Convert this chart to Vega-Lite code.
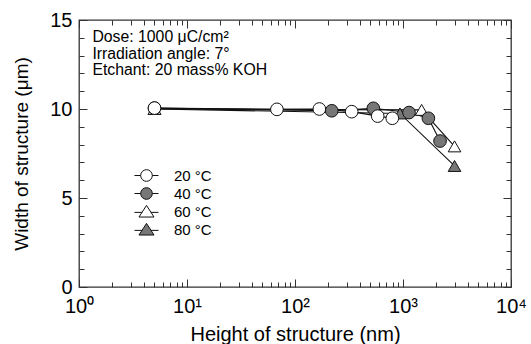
{
  "$schema": "https://vega.github.io/schema/vega-lite/v6.json",
  "width": 432,
  "height": 267,
  "autosize": {"type": "none"},
  "padding": {"left": 79, "top": 20, "right": 20, "bottom": 57},
  "config": {
    "view": {"stroke": "#333", "strokeWidth": 1.3},
    "font": "Liberation Sans",
    "axis": {"domain": false, "grid": false, "tickColor": "#333", "tickWidth": 1, "labelFont": "Liberation Sans", "titleFont": "Liberation Sans", "labelFontSize": 20, "titleFontSize": 20, "labelColor": "#000", "titleColor": "#000", "titleFontWeight": "normal"}
  },
  "datasets": {
    "pts": [
      {"series": "20 °C", "h": 5, "w": 10.05},
      {"series": "20 °C", "h": 68, "w": 9.98},
      {"series": "20 °C", "h": 168, "w": 10.0},
      {"series": "20 °C", "h": 335, "w": 9.85},
      {"series": "20 °C", "h": 583, "w": 9.6},
      {"series": "20 °C", "h": 796, "w": 9.48},
      {"series": "40 °C", "h": 5, "w": 10.05},
      {"series": "40 °C", "h": 219, "w": 9.9},
      {"series": "40 °C", "h": 531, "w": 10.04},
      {"series": "40 °C", "h": 1137, "w": 9.8},
      {"series": "40 °C", "h": 1718, "w": 9.48},
      {"series": "40 °C", "h": 2203, "w": 8.2},
      {"series": "60 °C", "h": 5, "w": 10.0},
      {"series": "60 °C", "h": 1487, "w": 9.95},
      {"series": "60 °C", "h": 3000, "w": 7.9},
      {"series": "80 °C", "h": 5, "w": 10.0},
      {"series": "80 °C", "h": 937, "w": 9.75},
      {"series": "80 °C", "h": 3000, "w": 6.8}
    ],
    "notes": [
      {"label": "Dose: 1000 μC/cm²\nIrradiation angle: 7°\nEtchant: 20 mass% KOH", "nx": 1.33, "ny": 14.45}
    ]
  },
  "layer": [
    {
      "data": {"name": "pts"},
      "mark": {"type": "line", "color": "#111", "strokeWidth": 1.1},
      "encoding": {
        "x": {"field": "h", "type": "quantitative", "scale": {"type": "log", "domain": [1, 10000], "nice": false},
          "axis": {"orient": "bottom", "values": [1, 10, 100, 1000, 10000], "labelExpr": "'10' + ['⁰','¹','²','³','⁴'][round(log(datum.value)/LN10)]", "tickSize": -8, "labelPadding": 17, "labelFlush": false, "title": "Height of structure (nm)", "titlePadding": 8}},
        "y": {"field": "w", "type": "quantitative", "scale": {"domain": [0, 15], "nice": false, "zero": true},
          "axis": {"orient": "left", "values": [0, 5, 10, 15], "tickSize": -8, "labelPadding": 15, "title": "Width of structure (μm)", "titleFontSize": 19, "titlePadding": 18}},
        "detail": {"field": "series"}
      }
    },
    {
      "data": {"name": "pts"},
      "mark": {"type": "point", "filled": true, "stroke": "#111", "strokeWidth": 1, "opacity": 1},
      "encoding": {
        "x": {"field": "h", "type": "quantitative", "axis": {"orient": "top", "values": [1, 10, 100, 1000, 10000], "labels": false, "tickSize": -8, "title": null}},
        "y": {"field": "w", "type": "quantitative", "axis": {"orient": "right", "values": [0, 5, 10, 15], "labels": false, "tickSize": -8, "title": null}},
        "shape": {"field": "series", "type": "nominal", "scale": {"domain": ["20 °C", "40 °C", "60 °C", "80 °C"], "range": ["circle", "circle", "triangle-up", "triangle-up"]}, "legend": null},
        "fill": {"field": "series", "type": "nominal", "scale": {"domain": ["20 °C", "40 °C", "60 °C", "80 °C"], "range": ["#ffffff", "#777777", "#ffffff", "#777777"]}, "legend": null},
        "size": {"field": "series", "type": "nominal", "scale": {"domain": ["20 °C", "40 °C", "60 °C", "80 °C"], "range": [160, 160, 210, 210]}, "legend": null},
        "order": {"field": "series", "sort": "descending"}
      }
    },
    {
      "data": {"name": "notes"},
      "mark": {"type": "text", "align": "left", "baseline": "top", "fontSize": 15.8, "lineHeight": 16.8, "font": "Liberation Sans", "color": "#000", "lineBreak": "\n"},
      "encoding": {
        "x": {"field": "nx", "type": "quantitative", "axis": {"orient": "bottom", "values": [2,3,4,5,6,7,8,9,20,30,40,50,60,70,80,90,200,300,400,500,600,700,800,900,2000,3000,4000,5000,6000,7000,8000,9000], "labels": false, "tickSize": -5, "title": null}},
        "y": {"field": "ny", "type": "quantitative", "axis": {"orient": "left", "values": [1,2,3,4,6,7,8,9,11,12,13,14], "labels": false, "tickSize": -5, "title": null}},
        "text": {"field": "label"}
      }
    },
    {
      "data": {"name": "pts"},
      "mark": {"type": "point", "filled": true, "opacity": 0, "stroke": "#111", "strokeWidth": 1},
      "encoding": {
        "x": {"field": "h", "type": "quantitative", "axis": {"orient": "top", "values": [2,3,4,5,6,7,8,9,20,30,40,50,60,70,80,90,200,300,400,500,600,700,800,900,2000,3000,4000,5000,6000,7000,8000,9000], "labels": false, "tickSize": -5, "title": null}},
        "y": {"field": "w", "type": "quantitative", "axis": {"orient": "right", "values": [1,2,3,4,6,7,8,9,11,12,13,14], "labels": false, "tickSize": -5, "title": null}},
        "shape": {"field": "series", "type": "nominal", "scale": {"domain": ["20 °C", "40 °C", "60 °C", "80 °C"], "range": ["M-2.06,0H-1M1,0H2.06M-1,0A1,1,0,1,1,1,0A1,1,0,1,1,-1,0Z", "M-2.06,0H-1M1,0H2.06M-1,0A1,1,0,1,1,1,0A1,1,0,1,1,-1,0Z", "M-2.06,0.15H-0.75M0.75,0.15H2.06M0,-1.05L1.29,0.95L-1.29,0.95Z", "M-2.06,0.15H-0.75M0.75,0.15H2.06M0,-1.05L1.29,0.95L-1.29,0.95Z"]},
          "legend": {"title": null, "orient": "none", "legendX": 60, "legendY": 148, "padding": 0, "symbolOpacity": 1, "symbolStrokeColor": "#111", "symbolStrokeWidth": 1, "symbolSize": 136, "labelFontSize": 15, "labelFont": "Liberation Sans", "labelColor": "#000", "labelOffset": 20, "rowPadding": 1,
            "encode": {"symbols": {"update": {"stroke": {"value": "#111"}, "strokeWidth": {"value": 1}, "strokeOpacity": {"value": 1}, "opacity": {"value": 1}}}}}},
        "fill": {"field": "series", "type": "nominal", "scale": {"domain": ["20 °C", "40 °C", "60 °C", "80 °C"], "range": ["#ffffff", "#777777", "#ffffff", "#777777"]},
          "legend": {"title": null, "orient": "none", "legendX": 60, "legendY": 148, "padding": 0, "symbolOpacity": 1, "symbolStrokeColor": "#111", "symbolStrokeWidth": 1, "symbolSize": 136, "labelFontSize": 15, "labelFont": "Liberation Sans", "labelColor": "#000", "labelOffset": 20, "rowPadding": 1,
            "encode": {"symbols": {"update": {"stroke": {"value": "#111"}, "strokeWidth": {"value": 1}, "strokeOpacity": {"value": 1}, "opacity": {"value": 1}}}}}}
      }
    }
  ],
  "resolve": {"axis": {"x": "independent", "y": "independent"}, "scale": {"shape": "independent", "fill": "independent"}}
}
